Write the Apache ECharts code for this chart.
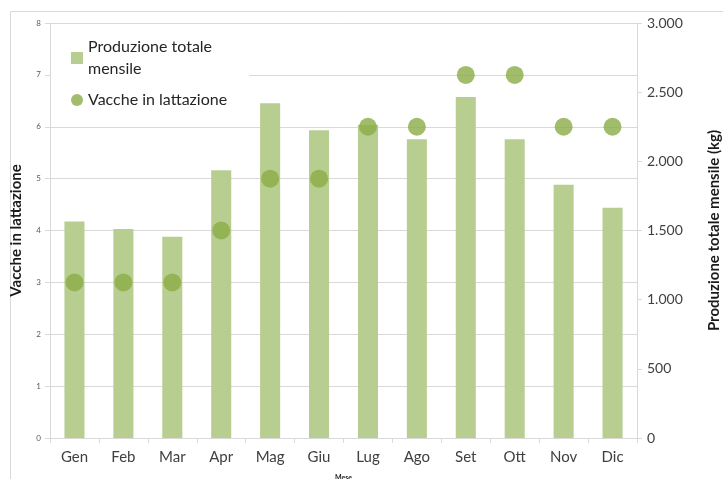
<!DOCTYPE html>
<html>
<head>
<meta charset="utf-8">
<script src="https://cdn.jsdelivr.net/npm/echarts@6/dist/echarts.min.js"></script>
<style>
html,body{margin:0;padding:0;background:#fff;}
#chart{width:723px;height:479px;}
</style>
</head>
<body>
<div id="chart"></div>
<script>
var categories = ['Gen','Feb','Mar','Apr','Mag','Giu','Lug','Ago','Set','Ott','Nov','Dic'];
var produzione = [1565, 1510, 1455, 1935, 2420, 2225, 2265, 2160, 2465, 2160, 1830, 1665];
var vacche = [3, 3, 3, 4, 5, 5, 6, 6, 7, 7, 6, 6];
var seriesNames = ['Produzione totale mensile', 'Vacche in lattazione'];
var axisNames = ['Vacche in lattazione', 'Produzione totale mensile (kg)', 'Mese'];

var font = 'Lato, "Open Sans", sans-serif';
var chart = echarts.init(document.getElementById('chart'), null, {renderer: 'canvas'});
chart.setOption({
  backgroundColor: '#ffffff',
  animation: false,
  textStyle: {fontFamily: font},
  graphic: [{
    type: 'rect',
    shape: {x: 10.5, y: 11.5, width: 730, height: 480},
    style: {fill: 'none', stroke: '#d9d9d9', lineWidth: 1},
    z: -10
  }],
  grid: {left: 50, right: 86, top: 23, bottom: 41, containLabel: false, outerBoundsMode: 'none'},
  legend: {
    left: 51, top: 30, orient: 'vertical',
    padding: [6, 22, 10, 20],
    itemGap: 9,
    backgroundColor: '#ffffff',
    itemWidth: 12, itemHeight: 12,
    data: [
      {name: seriesNames[0], icon: 'rect'},
      {name: seriesNames[1], icon: 'circle'}
    ],
    formatter: function (n) { return n === seriesNames[0] ? 'Produzione totale\nmensile' : n; },
    textStyle: {fontSize: 16, color: '#262626', lineHeight: 22, fontFamily: font}
  },
  xAxis: {
    type: 'category', data: categories,
    name: axisNames[2], nameLocation: 'middle', nameGap: 36,
    nameTextStyle: {fontSize: 7, fontWeight: 'bold', color: '#262626'},
    axisLine: {show: true, lineStyle: {color: '#d9d9d9'}},
    axisTick: {show: true, length: 5, lineStyle: {color: '#d9d9d9'}},
    axisLabel: {fontSize: 15, color: '#404040', margin: 12, fontFamily: font},
    splitLine: {show: false}
  },
  yAxis: [{
    type: 'value', min: 0, max: 8, interval: 1, position: 'left',
    name: axisNames[0], nameLocation: 'middle', nameGap: 26, nameRotate: 90,
    nameTextStyle: {fontSize: 15, fontWeight: 'bold', color: '#1a1a1a'},
    axisLine: {show: true, lineStyle: {color: '#d9d9d9'}},
    axisTick: {show: true, length: 5, lineStyle: {color: '#d9d9d9'}},
    axisLabel: {fontSize: 8, color: '#595959', margin: 9},
    splitLine: {show: true, lineStyle: {color: '#d9d9d9', width: 1}}
  }, {
    type: 'value', min: 0, max: 3000, interval: 500, position: 'right',
    name: axisNames[1], nameLocation: 'middle', nameGap: 70, nameRotate: 90,
    nameTextStyle: {fontSize: 15, fontWeight: 'bold', color: '#1a1a1a'},
    axisLine: {show: true, lineStyle: {color: '#d9d9d9'}},
    axisTick: {show: true, length: 5, lineStyle: {color: '#d9d9d9'}},
    axisLabel: {fontSize: 14, color: '#404040', margin: 10, fontFamily: font,
      formatter: function (v) { return String(v).replace(/\B(?=(\d{3})+(?!\d))/g, '.'); }},
    splitLine: {show: false}
  }],
  series: [{
    name: seriesNames[0], type: 'bar', yAxisIndex: 1,
    data: produzione, barWidth: '41%',
    itemStyle: {color: '#b7ce90'}, z: 2
  }, {
    name: seriesNames[1], type: 'scatter', yAxisIndex: 0,
    data: vacche, symbol: 'circle', symbolSize: 18,
    itemStyle: {color: '#8aac46'}, z: 3
  }]
});
</script>
</body>
</html>
